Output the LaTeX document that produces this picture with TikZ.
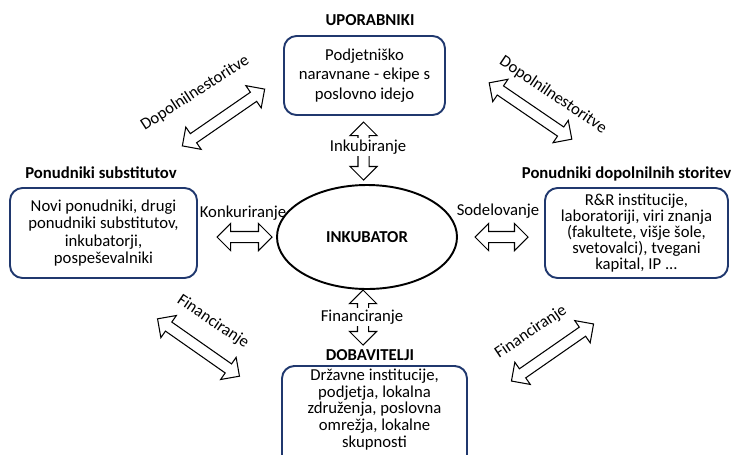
\documentclass[tikz,border=0pt]{standalone}
\usepackage{fontspec}
\setmainfont{Carlito}
\usetikzlibrary{shapes.arrows,shapes.geometric}
\definecolor{okvir}{RGB}{32,56,110}
\tikzset{
  skupina/.style={draw=okvir, line width=1.1pt, rounded corners=0.25cm, align=center, inner sep=2pt},
  naslov/.style={font=\fontsize{9.5}{11}\selectfont\bfseries},
  oznaka/.style={font=\fontsize{9.5}{11}\selectfont, inner sep=1pt},
  puscica/.style={double arrow, draw, line width=0.6pt, fill=white, inner sep=0pt, inner ysep=0.1cm,
    minimum width=0pt, double arrow head extend=0.16cm},
}
\begin{document}
\begin{tikzpicture}
                \useasboundingbox (0,0) rectangle (14.76,9.08);
                % skupine
                \node[naslov] (upor) at (7.4,8.68) {UPORABNIKI};
                \node[skupina, minimum width=3.22cm, minimum height=1.58cm, font=\fontsize{9.5}{11.2}\selectfont] (uporbox) at (7.29,7.57) {Podjetniško\\ naravnane - ekipe s\\ poslovno idejo};
                \node[naslov] (subst) at (2.02,5.62) {Ponudniki substitutov};
                \node[skupina, minimum width=3.74cm, minimum height=1.8cm, font=\fontsize{9.5}{10}\selectfont] (substbox) at (2.07,4.42) {Novi ponudniki, drugi\\ ponudniki substitutov,\\ inkubatorji,\\ pospeševalniki};
                \node[naslov] (dopol) at (12.53,5.6) {Ponudniki dopolnilnih storitev};
                \node[skupina, minimum width=3.66cm, minimum height=1.8cm, font=\fontsize{9.5}{9}\selectfont] (dopolbox) at (12.73,4.42) {R\&R institucije,\\ laboratoriji, viri znanja\\ (fakultete, višje šole,\\ svetovalci), tvegani\\ kapital, IP ...};
                \node[naslov] (dobav) at (7.4,1.98) {DOBAVITELJI};
                \node[skupina, anchor=north, minimum width=3.7cm, minimum height=2.1cm] (dobavbox) at (7.49,1.78) {};
                \node[anchor=north, align=center, inner sep=2pt, font=\fontsize{9.5}{9.5}\selectfont] (dobavtxt) at (dobavbox.north) {Državne institucije,\\ podjetja, lokalna\\ združenja, poslovna\\ omrežja, lokalne\\ skupnosti};
                % inkubator
                \node[draw, ellipse, line width=1.1pt, minimum width=3.6cm, minimum height=2.08cm, naslov] (inkub) at (7.34,4.34) {INKUBATOR};
                % puscice
                \node[puscica, minimum height=1.16cm, rotate=90] (gor) at (7.27,6.06) {};
                \node[puscica, minimum height=1.1cm, rotate=90] (dol) at (7.26,2.73) {};
                \node[puscica, minimum height=1.1cm] (levo) at (4.89,4.34) {};
                \node[puscica, minimum height=1.06cm] (desno) at (10.03,4.34) {};
                \node[puscica, minimum height=2.0cm, rotate=34.6] (levogor) at (4.47,6.73) {};
                \node[puscica, minimum height=2.0cm, rotate=-34.3] (desnogor) at (10.61,6.86) {};
                \node[puscica, minimum height=2.0cm, rotate=-35] (levodol) at (3.97,2.13) {};
                \node[puscica, minimum height=2.0cm, rotate=34.8] (desnodol) at (11.05,2.03) {};
                % oznake
                \node[oznaka, fill=white] (inkubir) at (7.36,6.14) {Inkubiranje};
                \node[oznaka, fill=white] (financ) at (7.24,2.74) {Financiranje};
                \node[oznaka] (konk) at (4.86,4.82) {Konkuriranje};
                \node[oznaka] (sodel) at (9.96,4.86) {Sodelovanje};
                \node[oznaka, rotate=33] (dopl) at (3.9,7.22) {Dopolnilnestoritve};
                \node[oznaka, rotate=-34] (dopd) at (11.06,7.18) {Dopolnilnestoritve};
                \node[oznaka, rotate=-34] (finl) at (4.26,2.64) {Financiranje};
                \node[oznaka, rotate=34] (find) at (10.62,2.44) {Financiranje};
\end{tikzpicture}
\end{document}
